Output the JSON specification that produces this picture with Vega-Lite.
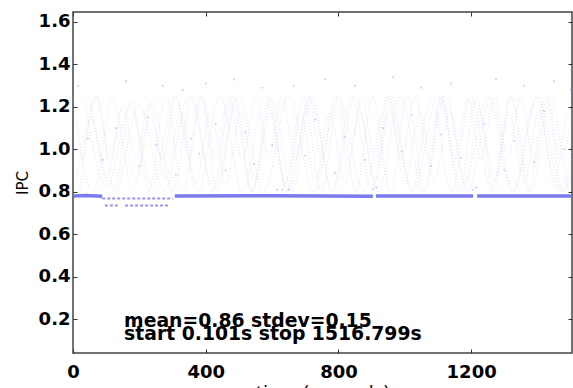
{
  "$schema": "https://vega.github.io/schema/vega-lite/v6.json",
  "width": 499,
  "height": 341,
  "autosize": {"type": "none"},
  "padding": {"left": 73, "top": 12, "right": 1, "bottom": 35},
  "background": "white",
  "config": {
    "view": {"stroke": "#444", "strokeWidth": 1.5},
    "font": "DejaVu Sans",
    "axis": {
      "domain": false, "grid": false, "labelFlush": false,
      "labelFont": "DejaVu Sans", "labelFontWeight": "bold", "labelFontSize": 18, "labelColor": "black",
      "tickColor": "#333", "tickSize": -4, "tickWidth": 1,
      "titleFont": "DejaVu Sans", "titleFontWeight": "normal", "titleColor": "black"
    }
  },
  "datasets": {
    "curves": [
      {"s":"a","t":0,"v":1.25},{"s":"a","t":60,"v":0.80},{"s":"a","t":120,"v":1.24},{"s":"a","t":180,"v":0.81},{"s":"a","t":240,"v":1.22},{"s":"a","t":300,"v":0.80},{"s":"a","t":360,"v":1.25},{"s":"a","t":420,"v":0.80},{"s":"a","t":480,"v":1.25},{"s":"a","t":540,"v":0.80},{"s":"a","t":600,"v":1.24},{"s":"a","t":660,"v":0.80},{"s":"a","t":720,"v":1.25},{"s":"a","t":780,"v":0.80},{"s":"a","t":840,"v":1.25},{"s":"a","t":900,"v":0.81},{"s":"a","t":960,"v":1.25},{"s":"a","t":1020,"v":0.80},{"s":"a","t":1080,"v":1.24},{"s":"a","t":1140,"v":0.80},{"s":"a","t":1200,"v":1.25},{"s":"a","t":1260,"v":0.80},{"s":"a","t":1320,"v":1.25},{"s":"a","t":1380,"v":0.80},{"s":"a","t":1440,"v":1.24},{"s":"a","t":1500,"v":0.80},{"s":"a","t":1560,"v":1.25},
      {"s":"b","t":20,"v":0.80},{"s":"b","t":72,"v":1.25},{"s":"b","t":124,"v":0.82},{"s":"b","t":176,"v":1.23},{"s":"b","t":228,"v":0.80},{"s":"b","t":280,"v":1.25},{"s":"b","t":332,"v":0.80},{"s":"b","t":384,"v":1.25},{"s":"b","t":436,"v":0.80},{"s":"b","t":488,"v":1.24},{"s":"b","t":540,"v":0.80},{"s":"b","t":592,"v":1.25},{"s":"b","t":644,"v":0.80},{"s":"b","t":696,"v":1.25},{"s":"b","t":748,"v":0.80},{"s":"b","t":800,"v":1.24},{"s":"b","t":852,"v":0.80},{"s":"b","t":904,"v":1.25},{"s":"b","t":956,"v":0.80},{"s":"b","t":1008,"v":1.25},{"s":"b","t":1060,"v":0.80},{"s":"b","t":1112,"v":1.25},{"s":"b","t":1164,"v":0.80},{"s":"b","t":1216,"v":1.24},{"s":"b","t":1268,"v":0.80},{"s":"b","t":1320,"v":1.25},{"s":"b","t":1372,"v":0.80},{"s":"b","t":1424,"v":1.25},{"s":"b","t":1476,"v":0.80},{"s":"b","t":1528,"v":1.25},
      {"s":"c","t":35,"v":1.22},{"s":"c","t":103,"v":0.82},{"s":"c","t":171,"v":1.20},{"s":"c","t":239,"v":0.83},{"s":"c","t":307,"v":1.25},{"s":"c","t":375,"v":0.80},{"s":"c","t":443,"v":1.25},{"s":"c","t":511,"v":0.80},{"s":"c","t":579,"v":1.25},{"s":"c","t":647,"v":0.80},{"s":"c","t":715,"v":1.24},{"s":"c","t":783,"v":0.80},{"s":"c","t":851,"v":1.25},{"s":"c","t":919,"v":0.80},{"s":"c","t":987,"v":1.25},{"s":"c","t":1055,"v":0.80},{"s":"c","t":1123,"v":1.25},{"s":"c","t":1191,"v":0.80},{"s":"c","t":1259,"v":1.25},{"s":"c","t":1327,"v":0.80},{"s":"c","t":1395,"v":1.24},{"s":"c","t":1463,"v":0.80},{"s":"c","t":1531,"v":1.25},
      {"s":"d","t":10,"v":0.85},{"s":"d","t":55,"v":1.15},{"s":"d","t":100,"v":0.86},{"s":"d","t":145,"v":1.12},{"s":"d","t":190,"v":0.85},{"s":"d","t":235,"v":1.15},{"s":"d","t":280,"v":0.86},{"s":"d","t":325,"v":1.18},{"s":"d","t":370,"v":0.84},{"s":"d","t":415,"v":1.18},{"s":"d","t":460,"v":0.84},{"s":"d","t":505,"v":1.17},{"s":"d","t":550,"v":0.85},{"s":"d","t":595,"v":1.18},{"s":"d","t":640,"v":0.84},{"s":"d","t":685,"v":1.18},{"s":"d","t":730,"v":0.85},{"s":"d","t":775,"v":1.17},{"s":"d","t":820,"v":0.84},{"s":"d","t":865,"v":1.18},{"s":"d","t":910,"v":0.85},{"s":"d","t":955,"v":1.18},{"s":"d","t":1000,"v":0.84},{"s":"d","t":1045,"v":1.17},{"s":"d","t":1090,"v":0.85},{"s":"d","t":1135,"v":1.18},{"s":"d","t":1180,"v":0.84},{"s":"d","t":1225,"v":1.18},{"s":"d","t":1270,"v":0.85},{"s":"d","t":1315,"v":1.17},{"s":"d","t":1360,"v":0.84},{"s":"d","t":1405,"v":1.18},{"s":"d","t":1450,"v":0.85},{"s":"d","t":1495,"v":1.17},{"s":"d","t":1540,"v":0.84},
      {"s":"e","t":50,"v":1.24},{"s":"e","t":125,"v":0.80},{"s":"e","t":200,"v":1.21},{"s":"e","t":275,"v":0.80},{"s":"e","t":350,"v":1.25},{"s":"e","t":425,"v":0.81},{"s":"e","t":500,"v":1.25},{"s":"e","t":575,"v":0.80},{"s":"e","t":650,"v":1.25},{"s":"e","t":725,"v":0.80},{"s":"e","t":800,"v":1.25},{"s":"e","t":875,"v":0.80},{"s":"e","t":950,"v":1.24},{"s":"e","t":1025,"v":0.80},{"s":"e","t":1100,"v":1.25},{"s":"e","t":1175,"v":0.80},{"s":"e","t":1250,"v":1.25},{"s":"e","t":1325,"v":0.80},{"s":"e","t":1400,"v":1.25},{"s":"e","t":1475,"v":0.80},{"s":"e","t":1550,"v":1.24},
      {"s":"f","t":30,"v":0.95},{"s":"f","t":70,"v":1.25},{"s":"f","t":110,"v":0.96},{"s":"f","t":150,"v":1.20},{"s":"f","t":190,"v":0.95},{"s":"f","t":230,"v":1.22},{"s":"f","t":270,"v":0.95},{"s":"f","t":310,"v":1.25},{"s":"f","t":350,"v":0.96},{"s":"f","t":390,"v":1.25},{"s":"f","t":430,"v":0.95},{"s":"f","t":470,"v":1.25},{"s":"f","t":510,"v":0.95},{"s":"f","t":550,"v":1.24},{"s":"f","t":590,"v":0.96},{"s":"f","t":630,"v":1.25},{"s":"f","t":670,"v":0.95},{"s":"f","t":710,"v":1.25},{"s":"f","t":750,"v":0.95},{"s":"f","t":790,"v":1.25},{"s":"f","t":830,"v":0.96},{"s":"f","t":870,"v":1.24},{"s":"f","t":910,"v":0.95},{"s":"f","t":950,"v":1.25},{"s":"f","t":990,"v":0.95},{"s":"f","t":1030,"v":1.25},{"s":"f","t":1070,"v":0.96},{"s":"f","t":1110,"v":1.25},{"s":"f","t":1150,"v":0.95},{"s":"f","t":1190,"v":1.24},{"s":"f","t":1230,"v":0.95},{"s":"f","t":1270,"v":1.25},{"s":"f","t":1310,"v":0.96},{"s":"f","t":1350,"v":1.25},{"s":"f","t":1390,"v":0.95},{"s":"f","t":1430,"v":1.25},{"s":"f","t":1470,"v":0.95},{"s":"f","t":1510,"v":1.24}
    ],
    "scatter": [
      {"t":15,"v":1.30},{"t":45,"v":1.05},{"t":90,"v":0.95},{"t":130,"v":1.10},{"t":160,"v":1.32},{"t":200,"v":0.92},{"t":225,"v":1.15},{"t":250,"v":1.02},{"t":270,"v":1.30},{"t":310,"v":0.88},{"t":330,"v":1.28},{"t":355,"v":1.05},{"t":380,"v":0.98},{"t":400,"v":1.31},{"t":430,"v":1.12},{"t":460,"v":0.90},{"t":485,"v":1.33},{"t":520,"v":1.08},{"t":545,"v":0.93},{"t":570,"v":1.29},{"t":600,"v":1.02},{"t":615,"v":0.81},{"t":630,"v":0.81},{"t":650,"v":0.81},{"t":665,"v":1.30},{"t":700,"v":0.97},{"t":730,"v":1.14},{"t":760,"v":1.33},{"t":790,"v":0.89},{"t":820,"v":1.06},{"t":850,"v":1.30},{"t":880,"v":0.95},{"t":905,"v":0.81},{"t":915,"v":0.82},{"t":935,"v":1.10},{"t":965,"v":1.34},{"t":990,"v":0.99},{"t":1020,"v":1.16},{"t":1050,"v":1.29},{"t":1080,"v":0.92},{"t":1110,"v":1.07},{"t":1140,"v":1.31},{"t":1170,"v":0.96},{"t":1205,"v":0.81},{"t":1215,"v":0.82},{"t":1240,"v":1.12},{"t":1275,"v":1.33},{"t":1300,"v":0.90},{"t":1330,"v":1.04},{"t":1360,"v":1.30},{"t":1390,"v":0.94},{"t":1420,"v":1.18},{"t":1450,"v":1.32},{"t":1480,"v":1.00},{"t":1500,"v":1.28}
    ],
    "band": [
      {"g":"1","t":0,"v":0.780},{"g":"1","t":40,"v":0.782},{"g":"1","t":88,"v":0.779},
      {"g":"3","t":307,"v":0.780},{"g":"3","t":600,"v":0.781},{"g":"3","t":904,"v":0.779},
      {"g":"4","t":913,"v":0.780},{"g":"4","t":1206,"v":0.780},
      {"g":"5","t":1218,"v":0.780},{"g":"5","t":1520,"v":0.780}
    ],
    "low": [
      {"g":"u","t":88,"v":0.768},{"g":"u","t":301,"v":0.768},
      {"g":"l1","t":96,"v":0.735},{"g":"l1","t":136,"v":0.735},
      {"g":"l2","t":157,"v":0.735},{"g":"l2","t":286,"v":0.735}
    ],
    "notes": [
      {"t":154,"v":0.162,"label":"mean=0.86 stdev=0.15"},
      {"t":154,"v":0.101,"label":"start 0.101s stop 1516.799s"}
    ]
  },
  "resolve": {"axis": {"x": "independent", "y": "independent"}},
  "layer": [
    {
      "data": {"name": "curves"},
      "mark": {"type": "line", "interpolate": "monotone", "clip": true, "color": "#c4c4ff", "strokeWidth": 1, "strokeDash": [1, 2], "opacity": 0.5},
      "encoding": {
        "x": {"field": "t", "type": "quantitative", "scale": {"domain": [0, 1504], "nice": false, "zero": false},
              "axis": {"orient": "bottom", "values": [0, 400, 800, 1200], "format": "d", "labelPadding": 14, "title": "time (seconds)", "titleFontSize": 18, "titlePadding": 3}},
        "y": {"field": "v", "type": "quantitative", "scale": {"domain": [0.04, 1.647], "nice": false, "zero": false},
              "axis": {"orient": "left", "values": [0.2, 0.4, 0.6, 0.8, 1.0, 1.2, 1.4, 1.6], "format": ".1f", "labelPadding": 7, "title": "IPC", "titleFontSize": 15, "titlePadding": 8}},
        "detail": {"field": "s"}
      }
    },
    {
      "data": {"name": "scatter"},
      "mark": {"type": "square", "size": 3, "clip": true, "color": "#a8a8ff", "opacity": 0.6},
      "encoding": {
        "x": {"field": "t", "type": "quantitative", "scale": {"domain": [0, 1504], "nice": false, "zero": false},
              "axis": {"orient": "top", "values": [0, 400, 800, 1200], "labels": false, "title": null}},
        "y": {"field": "v", "type": "quantitative", "scale": {"domain": [0.04, 1.647], "nice": false, "zero": false},
              "axis": {"orient": "right", "values": [0.2, 0.4, 0.6, 0.8, 1.0, 1.2, 1.4, 1.6], "labels": false, "title": null}}
      }
    },
    {
      "data": {"name": "low"},
      "mark": {"type": "line", "clip": true, "color": "#7a7af0", "strokeWidth": 2, "strokeDash": [3, 2], "opacity": 0.8},
      "encoding": {
        "x": {"field": "t", "type": "quantitative", "axis": null},
        "y": {"field": "v", "type": "quantitative", "axis": null},
        "detail": {"field": "g"}
      }
    },
    {
      "data": {"name": "band"},
      "mark": {"type": "line", "clip": true, "color": "#6c6cf0", "strokeWidth": 3.5, "opacity": 0.9},
      "encoding": {
        "x": {"field": "t", "type": "quantitative", "axis": null},
        "y": {"field": "v", "type": "quantitative", "axis": null},
        "detail": {"field": "g"}
      }
    },
    {
      "data": {"name": "notes"},
      "mark": {"type": "text", "align": "left", "baseline": "alphabetic", "font": "DejaVu Sans", "fontWeight": "bold", "fontSize": 18.8, "color": "black"},
      "encoding": {
        "x": {"field": "t", "type": "quantitative", "axis": null},
        "y": {"field": "v", "type": "quantitative", "axis": null},
        "text": {"field": "label"}
      }
    }
  ]
}
